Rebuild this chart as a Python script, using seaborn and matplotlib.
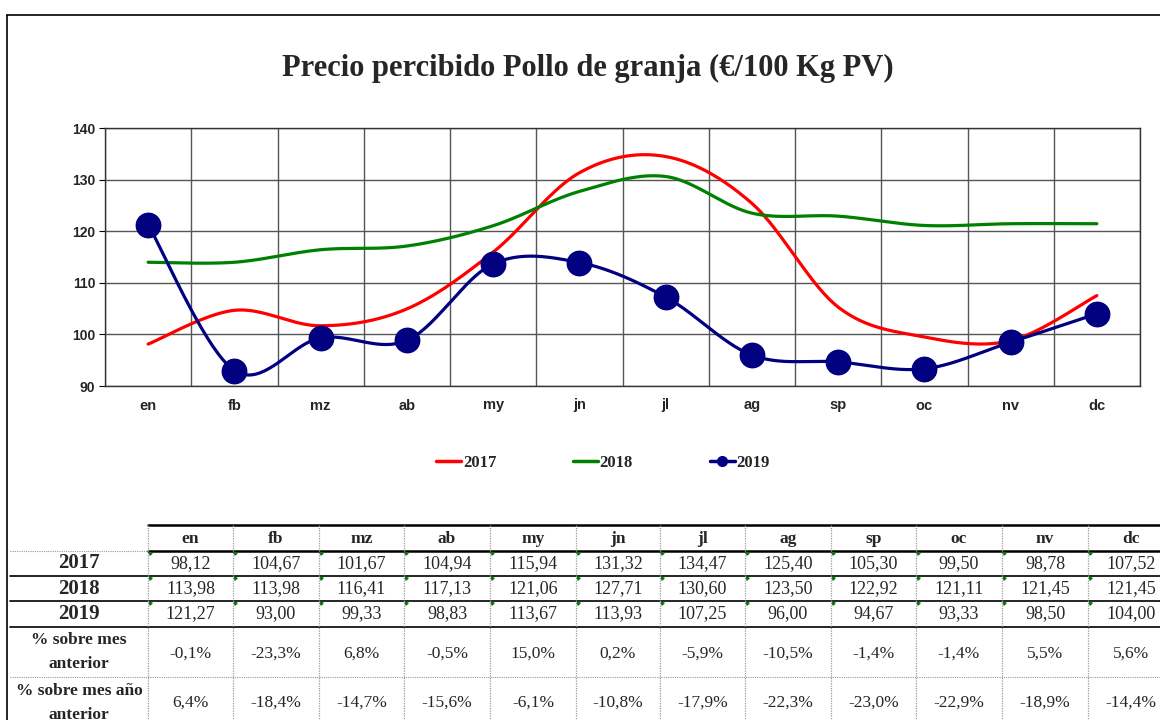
import numpy as np
import pandas as pd
import matplotlib
matplotlib.use("Agg")
import matplotlib.pyplot as plt
from matplotlib.lines import Line2D
import seaborn as sns

months = ["en", "fb", "mz", "ab", "my", "jn", "jl", "ag", "sp", "oc", "nv", "dc"]
v2017 = [98.12, 104.67, 101.67, 104.94, 115.94, 131.32, 134.47, 125.40, 105.30, 99.50, 98.78, 107.52]
v2018 = [113.98, 113.98, 116.41, 117.13, 121.06, 127.71, 130.60, 123.50, 122.92, 121.11, 121.45, 121.45]
v2019 = [121.27, 93.00, 99.33, 98.83, 113.67, 113.93, 107.25, 96.00, 94.67, 93.33, 98.50, 104.00]
pct_prev_month = ["-0,1%", "-23,3%", "6,8%", "-0,5%", "15,0%", "0,2%", "-5,9%", "-10,5%", "-1,4%", "-1,4%", "5,5%", "5,6%"]
pct_prev_year = ["6,4%", "-18,4%", "-14,7%", "-15,6%", "-6,1%", "-10,8%", "-17,9%", "-22,3%", "-23,0%", "-22,9%", "-18,9%", "-14,4%"]
years = ["2017", "2018", "2019"]
title = "Precio percibido Pollo de granja (€/100 Kg PV)"

sns.set_theme(style="white")
plt.rcParams["font.family"] = ["Liberation Serif", "DejaVu Serif"]

W, H = 1160, 720
fig = plt.figure(figsize=(W / 100, H / 100), dpi=100)
fig.patch.set_facecolor("white")


def fx(px):
    return px / W


def fy(py):
    return 1 - py / H


ax = fig.add_axes([fx(105), fy(386), fx(1140) - fx(105), fy(128) - fy(386)])


def smooth(x, y, n=40):
    pts = np.column_stack([x, y]).astype(float)
    P = np.vstack([pts[0], pts, pts[-1]])
    out = []
    t = np.linspace(0, 1, n)[:, None]
    for i in range(1, len(P) - 2):
        p0, p1, p2, p3 = P[i - 1], P[i], P[i + 1], P[i + 2]
        c1 = p1 + (p2 - p0) / 6
        c2 = p2 - (p3 - p1) / 6
        b = ((1 - t) ** 3) * p1 + 3 * ((1 - t) ** 2) * t * c1 + 3 * (1 - t) * t ** 2 * c2 + t ** 3 * p2
        out.append(b if i == 1 else b[1:])
    arr = np.vstack(out)
    return arr[:, 0], arr[:, 1]


xs = np.arange(len(months))
colors = {"2017": "#FF0000", "2018": "#008000", "2019": "#000080"}
for yr, vals in zip(years, [v2017, v2018, v2019]):
    sx, sy = smooth(xs, vals)
    df = pd.DataFrame({"x": sx, "y": sy})
    sns.lineplot(data=df, x="x", y="y", sort=False, estimator=None, ax=ax,
                 color=colors[yr], linewidth=2.3, zorder=3)

sns.scatterplot(x=xs, y=v2019, ax=ax, s=310, color="#000080", edgecolor="#000080",
                linewidth=1, zorder=4)

ax.set_xlim(-0.5, len(months) - 0.5)
ax.set_ylim(90, 140)
ax.set_yticks(np.arange(90, 141, 10))
ax.set_yticklabels([str(v) for v in range(90, 141, 10)], fontfamily="Liberation Sans",
                   fontweight="bold", fontsize=10)
ax.set_xticks(xs)
ax.set_xticklabels(months, fontfamily="Liberation Sans", fontweight="bold", fontsize=10.5)
ax.set_xticks(np.arange(-0.5, len(months), 1), minor=True)
ax.tick_params(axis="x", which="major", length=0, pad=9)
ax.tick_params(axis="x", which="minor", length=0)
ax.tick_params(axis="y", which="major", length=4, width=0.8, color="black", direction="out", left=True, pad=3)
ax.grid(False)
ax.yaxis.grid(True, color="#555555", linewidth=1.0)
ax.xaxis.grid(True, which="minor", color="#555555", linewidth=1.0)
ax.set_axisbelow(True)
for s in ax.spines.values():
    s.set_color("#333333")
    s.set_linewidth(1.0)
ax.set_xlabel("")
ax.set_ylabel("")

fig.text(fx(588), fy(68), title, ha="center", va="center", fontsize=22, fontweight="bold")

handles = [
    Line2D([0], [0], color=colors["2017"], lw=2.5),
    Line2D([0], [0], color=colors["2018"], lw=2.5),
    Line2D([0], [0], color=colors["2019"], lw=2.5, marker="o", markersize=7),
]
fig.legend(handles, years, loc="center", bbox_to_anchor=(fx(603), fy(463)), ncol=3,
           frameon=False, handlelength=1.5, handletextpad=0.1, columnspacing=4.6,
           prop={"family": "Liberation Serif", "weight": "bold", "size": 12})

# outer frame
fig.add_artist(Line2D([fx(7), fx(7)], [fy(15), 0], color="black", lw=1.2))
fig.add_artist(Line2D([fx(7), 1], [fy(15), fy(15)], color="black", lw=1.2))

# table
col_edges = [148, 233, 319, 404, 490, 576, 660, 745, 831, 916, 1002, 1088, 1174]
row_edges = [525, 551, 576, 601, 627, 677, 727]
lab_left = 10


def hline(y, x0, x1, color="black", lw=1.0, ls="-"):
    fig.add_artist(Line2D([fx(x0), fx(x1)], [fy(y), fy(y)], color=color, lw=lw, ls=ls))


def vline(x, y0, y1, color="black", lw=1.0, ls="-"):
    fig.add_artist(Line2D([fx(x), fx(x)], [fy(y0), fy(y1)], color=color, lw=lw, ls=ls))


gray = "#9a9a9a"
hline(525, 148, 1174, lw=1.8)
hline(551, 148, 1174, lw=1.8)
hline(551, lab_left, 148, color=gray, lw=0.8, ls=(0, (1, 1)))
hline(576, lab_left, 1174, lw=1.2)
hline(601, lab_left, 1174, lw=1.2)
hline(627, lab_left, 1174, lw=1.2)
hline(677, lab_left, 1174, color=gray, lw=0.8, ls=(0, (1, 1)))
for x in col_edges[:-1]:
    vline(x, 525, 727, color=gray, lw=0.9, ls=(0, (1, 1)))

centers = [(col_edges[i] + col_edges[i + 1]) / 2 for i in range(len(months))]
for i, m in enumerate(months):
    fig.text(fx(centers[i]), fy(539), m, ha="center", va="center", fontsize=12.5, fontweight="bold")

row_vals = [v2017, v2018, v2019]
for r, (yr, vals) in enumerate(zip(years, row_vals)):
    yc = (row_edges[r + 1] + row_edges[r + 2]) / 2
    fig.text(fx(79), fy(yc), yr, ha="center", va="center", fontsize=15, fontweight="bold")
    for i, v in enumerate(vals):
        fig.text(fx(centers[i]), fy(yc), f"{v:.2f}".replace(".", ","), ha="center", va="center", fontsize=13)
        fig.add_artist(Line2D([fx(col_edges[i] + 2)], [fy(row_edges[r + 1] + 2)], marker=(3, 0, 45),
                              markersize=2.5, color="#008000", lw=0))

yc = (row_edges[4] + row_edges[5]) / 2
fig.text(fx(79), fy(yc), "% sobre mes\nanterior", ha="center", va="center", fontsize=12.5,
         fontweight="bold", linespacing=1.7)
for i, t in enumerate(pct_prev_month):
    fig.text(fx(centers[i]), fy(yc + 2), t, ha="center", va="center", fontsize=12.5)
yc = (row_edges[5] + row_edges[6]) / 2
fig.text(fx(79), fy(yc + 1), "% sobre mes año\nanterior", ha="center", va="center", fontsize=12.5,
         fontweight="bold", linespacing=1.7)
for i, t in enumerate(pct_prev_year):
    fig.text(fx(centers[i]), fy(yc + 1), t, ha="center", va="center", fontsize=12.5)

fig.savefig("out.png", dpi=100)
